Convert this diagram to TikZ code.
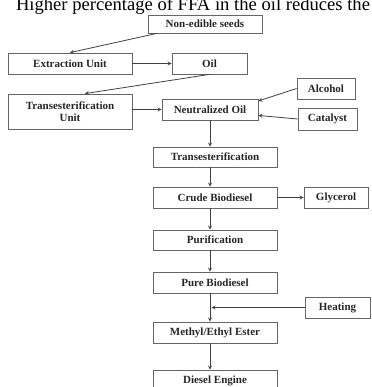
\documentclass[tikz,border=0pt]{standalone}
\usepackage{fontspec}
\setmainfont{Liberation Serif}
\usetikzlibrary{arrows,calc}

\begin{document}
\begin{tikzpicture}[x=1pt,y=-1pt,>=stealth,
    box/.style={draw=black!60,line width=0.8pt,inner sep=0pt,minimum height=21pt,
      font=\fontsize{11}{11.5}\selectfont\bfseries,text=black!85,align=center},
    flow/.style={->,draw=black!75,line width=0.8pt}]
  \useasboundingbox (0,0) rectangle (371,387);
  \clip (0,0) rectangle (371,387);
  % --- line of text cut at the top ---
  \node[anchor=base,inner sep=0pt,font=\fontsize{18.6}{20}\selectfont] (head) at (193,10.5) {Higher percentage of FFA in the oil reduces the};
  % --- seeds, extraction, oil ---
  \node[box,minimum width=114pt,minimum height=18pt] (seeds) at (205,24) {Non-edible seeds};
  \node[box,minimum width=124pt] (extract) at (70,63.5) {Extraction Unit};
  \node[box,minimum width=75pt] (oil) at (209.5,63.5) {Oil};
  \node[box,minimum width=124pt,minimum height=35pt] (tunit) at (70,111.5) {Transesterification\\ Unit};
  \draw[flow] ($(seeds.south west)!0.08!(seeds.south east)$) -- (extract.north);
  \draw[flow] (extract) -- (oil);
  \draw[flow] (oil.south) -- ($(tunit.north west)!0.62!(tunit.north east)$);
  % --- neutralized oil and its inputs ---
  \node[box,minimum width=96pt] (neutral) at (210,109.5) {Neutralized Oil};
  \node[box,minimum width=58pt] (alcohol) at (326,88.5) {Alcohol};
  \node[box,minimum width=59pt,minimum height=22pt] (catalyst) at (327.5,119) {Catalyst};
  \draw[flow] (neutral.west -| tunit.east) -- (neutral.west);
  \draw[flow] (alcohol.west) -- (neutral.10);
  \draw[flow] (catalyst.west) -- (neutral.-7);
  % --- main column ---
  \node[box,minimum width=124pt,minimum height=20pt] (trans) at (215,157) {Transesterification};
  \node[box,minimum width=124pt] (crude) at (215,197.5) {Crude Biodiesel};
  \node[box,minimum width=64pt] (glycerol) at (336,197.5) {Glycerol};
  \node[box,minimum width=124pt,minimum height=20pt] (purif) at (215,240) {Purification};
  \node[box,minimum width=124pt] (pure) at (215,282.5) {Pure Biodiesel};
  \node[box,minimum width=65pt] (heating) at (337.5,307.5) {Heating};
  \node[box,minimum width=124pt] (ester) at (215,332.5) {Methyl/Ethyl Ester};
  \node[box,minimum width=124pt] (diesel) at (215,380.5) {Diesel Engine};
  \draw[flow] (neutral.south) -- (trans.north -| neutral.south);
  \draw[flow] (trans.south -| neutral.south) -- (crude.north -| neutral.south);
  \draw[flow] (crude) -- (glycerol);
  \draw[flow] (crude.south -| neutral.south) -- (purif.north -| neutral.south);
  \draw[flow] (purif.south -| neutral.south) -- (pure.north -| neutral.south);
  \draw[flow] (pure.south -| neutral.south) -- (ester.north -| neutral.south);
  \draw[flow] (heating.west) -- ($(heating.west -| neutral.south)+(1.5,0)$);
  \draw[flow] (ester.south -| neutral.south) -- (diesel.north -| neutral.south);
\end{tikzpicture}
\end{document}
